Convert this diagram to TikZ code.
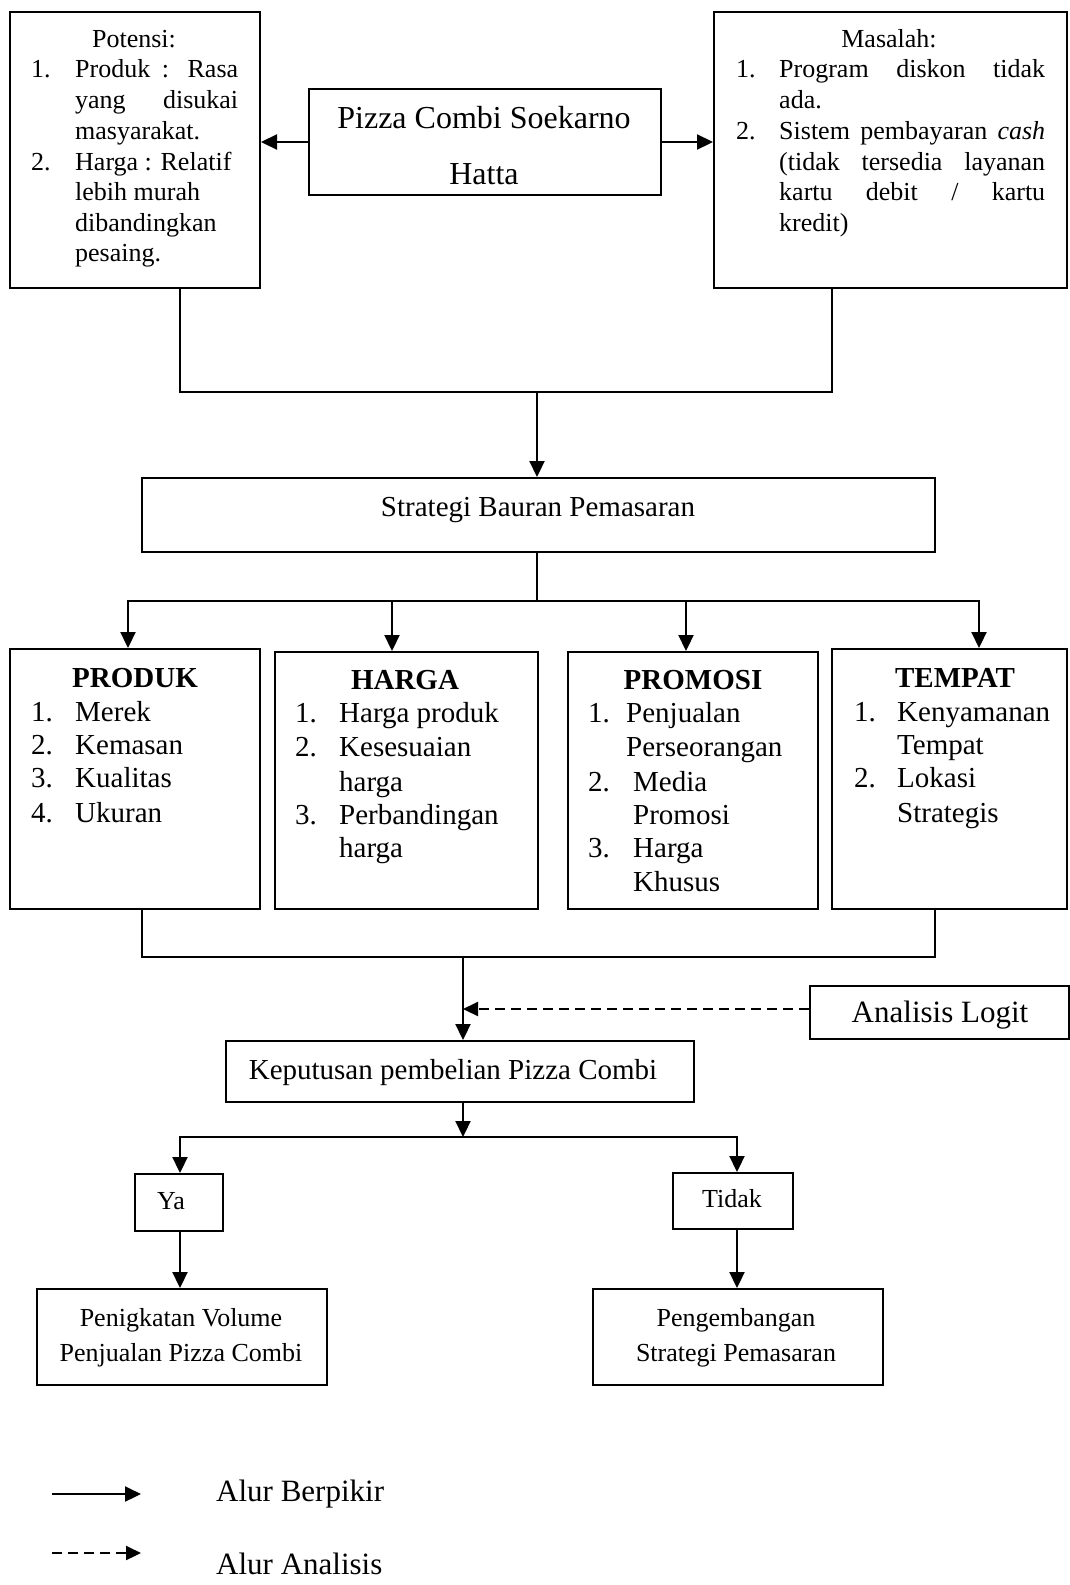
\documentclass[tikz,border=0pt]{standalone}
\usepackage{fontspec}
\setmainfont{Liberation Serif}
\usetikzlibrary{arrows.meta}
\newcommand{\fs}[1]{\fontsize{#1}{#1}\selectfont}
\newcommand{\jl}[2]{\makebox[#1pt][s]{#2}}
\begin{document}
\begin{tikzpicture}[x=1pt,y=-1pt,
  bx/.style={draw, line width=2pt, fill=white, inner sep=0pt, anchor=north west},
  tx/.style={inner sep=0pt, anchor=mid west, yshift=-7pt},
  tc/.style={inner sep=0pt, anchor=mid, yshift=-7pt},
  ln/.style={line width=2.2pt},
  arr/.style={line width=2.2pt, -{Triangle[length=16pt,width=15pt]}},
  dsh/.style={line width=2.2pt, dash pattern=on 10pt off 6pt, -{Triangle[length=15pt,width=14pt]}},
  f26/.style={font=\fs{26}},
  f29/.style={font=\fs{29}},
]
\useasboundingbox (0,0) rectangle (1070,1585);

% ---------- boxes ----------
\node[bx, minimum width=250pt, minimum height=276pt] (pot) at (9,11) {};
\node[bx, minimum width=352pt, minimum height=106pt] (piz) at (308,88) {};
\node[bx, minimum width=353pt, minimum height=276pt] (mas) at (713,11) {};
\node[bx, minimum width=793pt, minimum height=74pt] (str) at (141,477) {};
\node[bx, minimum width=250pt, minimum height=260pt] (prod) at (9,648) {};
\node[bx, minimum width=263pt, minimum height=257pt] (harg) at (274,651) {};
\node[bx, minimum width=250pt, minimum height=257pt] (prom) at (567,651) {};
\node[bx, minimum width=235pt, minimum height=260pt] (temp) at (831,648) {};
\node[bx, minimum width=259pt, minimum height=53pt] (anal) at (809,985) {};
\node[bx, minimum width=468pt, minimum height=61pt] (kep) at (225,1040) {};
\node[bx, minimum width=88pt, minimum height=57pt] (ya) at (134,1173) {};
\node[bx, minimum width=120pt, minimum height=56pt] (tdk) at (672,1172) {};
\node[bx, minimum width=290pt, minimum height=96pt] (pen) at (36,1288) {};
\node[bx, minimum width=290pt, minimum height=96pt] (peng) at (592,1288) {};

% ---------- Potensi ----------
\node[tc, f26] (pt0) at (134,38) {Potensi:};
\node[tx, f26] (pt1n) at (31,68) {1.};
\node[tx, f26] (pt1) at (75,68) {\jl{163}{Produk : Rasa}};
\node[tx, f26] (pt2) at (75,99) {\jl{163}{yang disukai}};
\node[tx, f26] (pt3) at (75,130) {masyarakat.};
\node[tx, f26] (pt4n) at (31,161) {2.};
\node[tx, f26] (pt4) at (75,161) {Harga : Relatif};
\node[tx, f26] (pt5) at (75,191) {lebih murah};
\node[tx, f26] (pt6) at (75,222) {dibandingkan};
\node[tx, f26] (pt7) at (75,252) {pesaing.};

% ---------- Pizza ----------
\node[tc, font=\fs{32}] (pz1) at (484,119) {Pizza Combi Soekarno};
\node[tc, font=\fs{32}] (pz2) at (484,175) {Hatta};

% ---------- Masalah ----------
\node[tc, f26] (ms0) at (889,38) {Masalah:};
\node[tx, f26] (ms1n) at (736,68) {1.};
\node[tx, f26] (ms1) at (779,68) {\jl{266}{Program diskon tidak}};
\node[tx, f26] (ms2) at (779,99) {ada.};
\node[tx, f26] (ms3n) at (736,130) {2.};
\node[tx, f26] (ms3) at (779,130) {\jl{266}{Sistem pembayaran \textit{cash}}};
\node[tx, f26] (ms4) at (779,161) {\jl{266}{(tidak tersedia layanan}};
\node[tx, f26] (ms5) at (779,191) {\jl{266}{kartu debit / kartu}};
\node[tx, f26] (ms6) at (779,222) {kredit)};

% ---------- Strategi ----------
\node[tc, f29] (st) at (538,507) {Strategi Bauran Pemasaran};

% ---------- PRODUK ----------
\node[tc, font=\fs{29}\bfseries] (pr0) at (135,678) {PRODUK};
\node[tx, f29] (pr1n) at (31,712) {1.};
\node[tx, f29] (pr1) at (75,712) {Merek};
\node[tx, f29] (pr2n) at (31,745) {2.};
\node[tx, f29] (pr2) at (75,745) {Kemasan};
\node[tx, f29] (pr3n) at (31,778) {3.};
\node[tx, f29] (pr3) at (75,778) {Kualitas};
\node[tx, f29] (pr4n) at (31,813) {4.};
\node[tx, f29] (pr4) at (75,813) {Ukuran};

% ---------- HARGA ----------
\node[tc, font=\fs{29}\bfseries] (hg0) at (405,680) {HARGA};
\node[tx, f29] (hg1n) at (295,713) {1.};
\node[tx, f29] (hg1) at (339,713) {Harga produk};
\node[tx, f29] (hg2n) at (295,747) {2.};
\node[tx, f29] (hg2) at (339,747) {Kesesuaian};
\node[tx, f29] (hg3) at (339,782) {harga};
\node[tx, f29] (hg4n) at (295,815) {3.};
\node[tx, f29] (hg4) at (339,815) {Perbandingan};
\node[tx, f29] (hg5) at (339,848) {harga};

% ---------- PROMOSI ----------
\node[tc, font=\fs{29}\bfseries] (pm0) at (693,680) {PROMOSI};
\node[tx, f29] (pm1n) at (588,713) {1.};
\node[tx, f29] (pm1) at (626,713) {Penjualan};
\node[tx, f29] (pm2) at (626,747) {Perseorangan};
\node[tx, f29] (pm3n) at (588,782) {2.};
\node[tx, f29] (pm3) at (633,782) {Media};
\node[tx, f29] (pm4) at (633,815) {Promosi};
\node[tx, f29] (pm5n) at (588,848) {3.};
\node[tx, f29] (pm5) at (633,848) {Harga};
\node[tx, f29] (pm6) at (633,882) {Khusus};

% ---------- TEMPAT ----------
\node[tc, font=\fs{29}\bfseries] (tp0) at (955,678) {TEMPAT};
\node[tx, f29] (tp1n) at (854,712) {1.};
\node[tx, f29] (tp1) at (897,712) {Kenyamanan};
\node[tx, f29] (tp2) at (897,745) {Tempat};
\node[tx, f29] (tp3n) at (854,778) {2.};
\node[tx, f29] (tp3) at (897,778) {Lokasi};
\node[tx, f29] (tp4) at (897,813) {Strategis};

% ---------- lower texts ----------
\node[tc, font=\fs{31}] (an) at (940,1013) {Analisis Logit};
\node[tc, f29] (kp) at (453,1070) {Keputusan pembelian Pizza Combi};
\node[tc, f26] (yat) at (171,1200) {Ya};
\node[tc, f26] (tdt) at (732,1198) {Tidak};
\node[tc, f26] (pn1) at (181,1317) {Penigkatan Volume};
\node[tc, f26] (pn2) at (181,1352) {Penjualan Pizza Combi};
\node[tc, f26] (pg1) at (736,1317) {Pengembangan};
\node[tc, f26] (pg2) at (736,1352) {Strategi Pemasaran};

% ---------- connectors ----------
\coordinate (j1) at (537,392);
\coordinate (j2) at (537,601);
\coordinate (j3) at (463,957);
\coordinate (j5) at (463,1137);

\draw[arr] (piz.west) -- (pot.east |- piz.west);
\draw[arr] (piz.east) -- (mas.west |- piz.east);
\draw[ln] ([xshift=45pt]pot.south) |- (j1) -| ([xshift=-58.5pt]mas.south);
\draw[arr] (j1) -- (j1 |- str.north);

\draw[ln] (j2 |- str.south) -- (j2);
\draw[arr] (j2) -| ([xshift=-7pt]prod.north);
\draw[arr] (j2) -| ([xshift=-14.5pt]harg.north);
\draw[arr] (j2) -| ([xshift=-7pt]prom.north);
\draw[arr] (j2) -| ([xshift=29.5pt]temp.north);

\draw[ln] ([xshift=7pt]prod.south) |- (j3) -| ([xshift=-14.5pt]temp.south);
\draw[arr] (j3) -- (j3 |- kep.north);
\draw[dsh] (anal.west |- 0,1009) -- (j3 |- 0,1009);

\draw[arr] (j3 |- kep.south) -- (j5);
\draw[arr] (j5) -| ([xshift=1pt]ya.north);
\draw[arr] (j5) -| ([xshift=4pt]tdk.north);
\draw[arr] ([xshift=1pt]ya.south) -- ([xshift=1pt]ya.south |- pen.north);
\draw[arr] ([xshift=4pt]tdk.south) -- ([xshift=4pt]tdk.south |- peng.north);

% ---------- legend ----------
\coordinate (la1) at (52,1494);
\coordinate (lb1) at (141,1494);
\coordinate (la2) at (52,1553);
\coordinate (lb2) at (141,1553);
\draw[arr] (la1) -- (lb1);
\draw[dsh] (la2) -- (lb2);
\node[tx, font=\fs{31}] (lg1) at (216,1492) {Alur Berpikir};
\node[tx, font=\fs{31}] (lg2) at (216,1565) {Alur Analisis};
\end{tikzpicture}
\end{document}
